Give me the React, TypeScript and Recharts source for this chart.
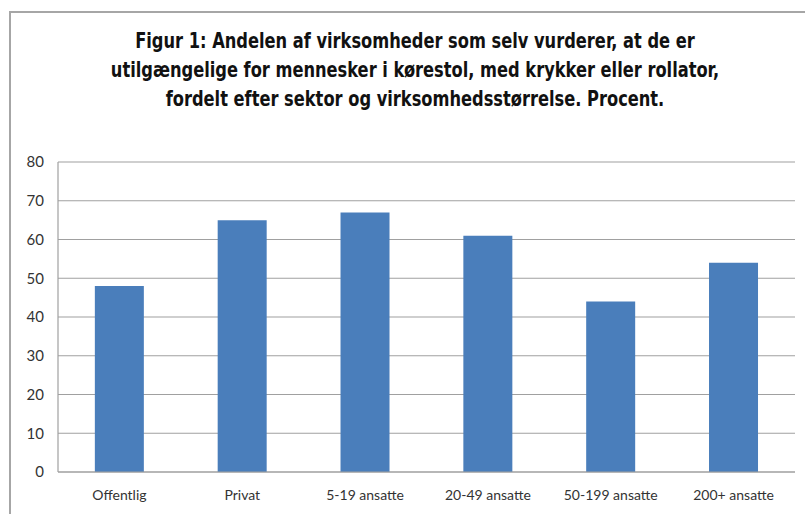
import React from 'react';
import { BarChart, Bar, XAxis, YAxis, CartesianGrid } from 'recharts';

const categories = ['Offentlig', 'Privat', '5-19 ansatte', '20-49 ansatte', '50-199 ansatte', '200+ ansatte'];
const values = [48, 65, 67, 61, 44, 54];
const yTicks = [0, 10, 20, 30, 40, 50, 60, 70, 80];
const titleLines = [
  'Figur 1: Andelen af virksomheder som selv vurderer, at de er',
  'utilgængelige for mennesker i kørestol, med krykker eller rollator,',
  'fordelt efter sektor og virksomhedsstørrelse. Procent.',
];

const data = categories.map((c, i) => ({ name: c, value: values[i] }));

export default function App() {
  return (
    <div
      style={{
        position: 'fixed',
        left: 0,
        top: 0,
        width: 805,
        height: 514,
        overflow: 'hidden',
        background: '#fff',
      }}
    >
      <div style={{ position: 'absolute', left: 9, top: 11, width: 796, height: 2, background: '#a6a6a6' }} />
      <div style={{ position: 'absolute', left: 9, top: 11, width: 2, height: 503, background: '#a6a6a6' }} />
      <div
        style={{
          position: 'absolute',
          left: 25,
          top: 27,
          width: 780,
          textAlign: 'center',
          fontFamily: '"DejaVu Sans", sans-serif',
          fontStretch: 'condensed',
          fontWeight: 'bold',
          fontSize: 21,
          lineHeight: '29px',
          color: '#111',
          transform: 'scaleX(0.86)',
          transformOrigin: '390px 0',
        }}
      >
        {titleLines.map((l, i) => (
          <div key={i}>{l}</div>
        ))}
      </div>
      <div style={{ position: 'absolute', left: 10, top: 14 }}>
        <BarChart
          width={787}
          height={490}
          data={data}
          margin={{ top: 148, right: 2, bottom: 2, left: 8 }}
          barCategoryGap="30%"
        >
          <CartesianGrid vertical={false} stroke="#a0a0a0" strokeWidth={1.2} />
          <XAxis
            dataKey="name"
            height={30}
            tickLine={false}
            axisLine={{ stroke: '#a0a0a0', strokeWidth: 1.2 }}
            tickMargin={12}
            interval={0}
            tick={{ fontFamily: 'Lato, sans-serif', fontSize: 14, fill: '#333' }}
          />
          <YAxis
            width={40}
            domain={[0, 80]}
            ticks={yTicks}
            tickLine={false}
            axisLine={{ stroke: '#a0a0a0', strokeWidth: 1.2 }}
            tickMargin={8}
            tick={{ fontFamily: 'Lato, sans-serif', fontSize: 15, fill: '#333' }}
          />
          <Bar dataKey="value" fill="#4a7ebb" isAnimationActive={false} />
        </BarChart>
      </div>
    </div>
  );
}
